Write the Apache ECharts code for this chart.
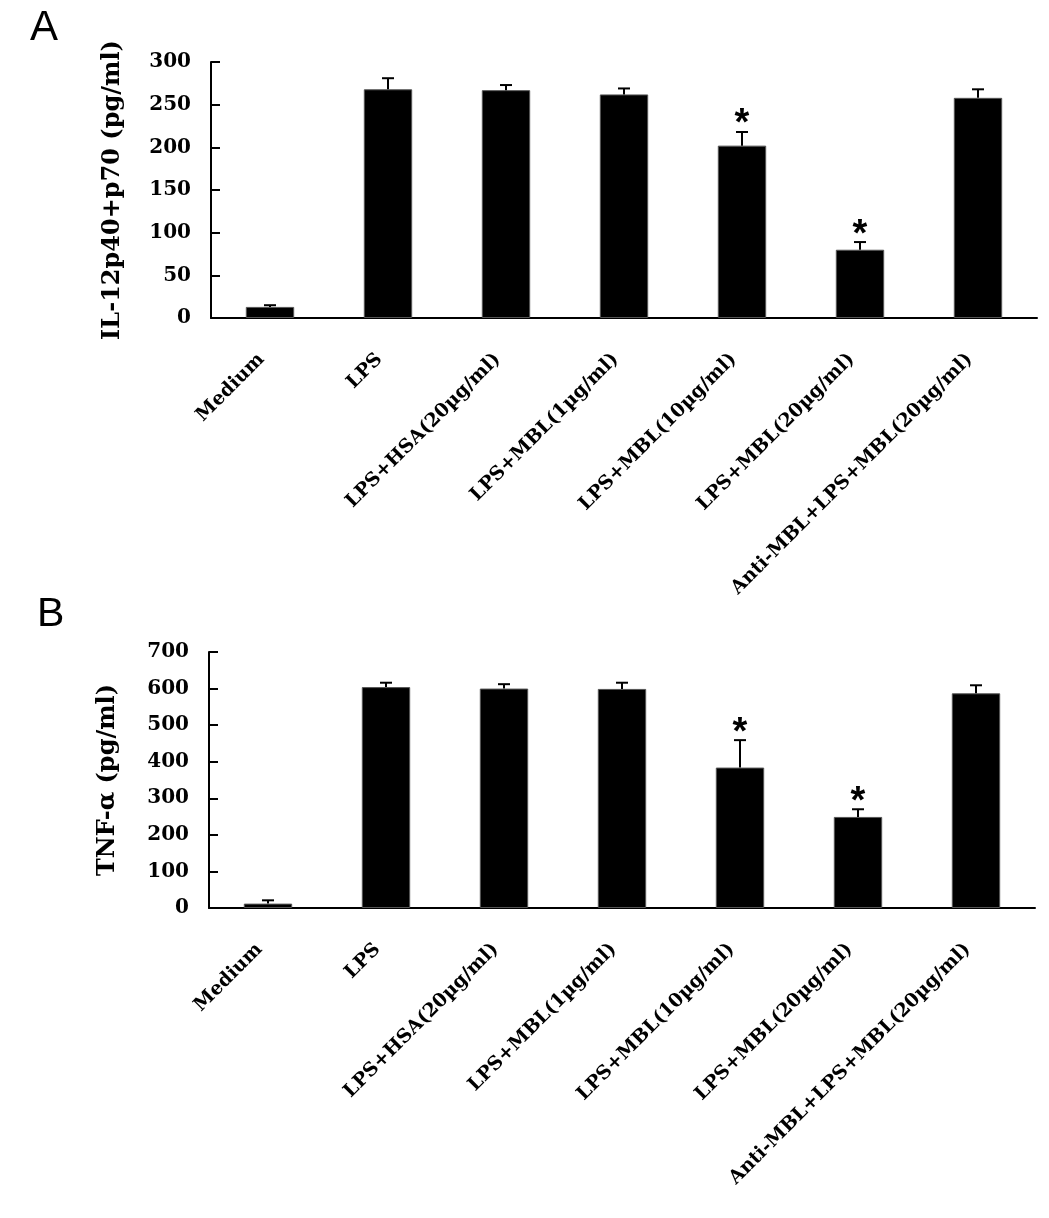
<!DOCTYPE html>
<html><head><meta charset="utf-8">
<script src="https://cdn.jsdelivr.net/npm/echarts@6/dist/echarts.min.js"></script>
<style>html,body{margin:0;padding:0;background:#fff}#c{width:1049px;height:1218px}</style>
</head><body><div id="c"></div>
<script>
var categories = ['Medium','LPS','LPS+HSA(20µg/ml)','LPS+MBL(1µg/ml)','LPS+MBL(10µg/ml)','LPS+MBL(20µg/ml)','Anti-MBL+LPS+MBL(20µg/ml)'];
var il12Mean = [13, 268, 267, 262, 202, 80, 258];
var il12Err  = [2, 13, 6, 7, 16, 9, 10];
var il12Sig  = ['', '', '', '', '*', '*', ''];
var tnfMean  = [12, 604, 600, 599, 384, 249, 587];
var tnfErr   = [9, 12, 12, 17, 75, 21, 22];
var tnfSig   = ['', '', '', '', '*', '*', ''];
var il12Ticks = {min: 0, max: 300, interval: 50};
var tnfTicks  = {min: 0, max: 700, interval: 100};

var chart = echarts.init(document.getElementById('c'), null, {renderer: 'canvas'});
var serif = 'DejaVu Serif';

function errData(mean, err, sig) {
  return mean.map(function (m, i) { return [i, m, m + err[i], sig[i]]; });
}
function errRender(params, api) {
  var x = api.value(0), lo = api.value(1), hi = api.value(2);
  var p0 = api.coord([x, lo]), p1 = api.coord([x, hi]);
  var half = 6;
  var children = [
    {type: 'line', shape: {x1: p0[0], y1: p0[1], x2: p1[0], y2: p1[1]}, style: {stroke: '#000', lineWidth: 2}},
    {type: 'line', shape: {x1: p1[0] - half, y1: p1[1], x2: p1[0] + half, y2: p1[1]}, style: {stroke: '#000', lineWidth: 2}}
  ];
  var s = api.value(3);
  if (s && s !== '-') {
    children.push({type: 'text', x: p1[0], y: p1[1] + 12,
      style: {text: s, fill: '#000', font: 'bold 38px "Liberation Sans", Arial', textAlign: 'center', textVerticalAlign: 'bottom'}});
  }
  return {type: 'group', children: children};
}

function xAxisCfg(gi) {
  return {
    type: 'category', gridIndex: gi, data: categories, boundaryGap: true,
    axisLine: {lineStyle: {color: '#000', width: 2}},
    axisTick: {inside: true, length: 9, lineStyle: {color: '#000', width: 2}},
    axisLabel: {rotate: 45, margin: 30, interval: 0, color: '#000', padding: [0, 12, 0, 0],
      fontFamily: serif, fontWeight: 'bold', fontSize: 19}
  };
}
function yAxisCfg(gi, ticks, name, gap) {
  return {
    type: 'value', gridIndex: gi, min: ticks.min, max: ticks.max, interval: ticks.interval,
    name: name, nameLocation: 'middle', nameRotate: 90, nameGap: gap,
    nameTextStyle: {color: '#000', fontFamily: serif, fontWeight: 'bold', fontSize: 24},
    splitLine: {show: false},
    axisLine: {show: true, lineStyle: {color: '#000', width: 2}},
    axisTick: {show: true, inside: true, length: 9, lineStyle: {color: '#000', width: 2}},
    axisLabel: {margin: 20, color: '#000', fontFamily: serif, fontWeight: 'bold', fontSize: 20}
  };
}

chart.setOption({
  animation: false,
  backgroundColor: '#fff',
  title: [
    {text: 'A', left: 25, top: 2, textStyle: {fontFamily: '"Liberation Sans", Arial', fontWeight: 'normal', fontSize: 42, color: '#000'}},
    {text: 'B', left: 32, top: 589, textStyle: {fontFamily: '"Liberation Sans", Arial', fontWeight: 'normal', fontSize: 41, color: '#000'}}
  ],
  grid: [
    {left: 211, right: 12, top: 62, height: 256},
    {left: 209, right: 14, top: 652, height: 256}
  ],
  xAxis: [xAxisCfg(0), xAxisCfg(1)],
  yAxis: [yAxisCfg(0, il12Ticks, 'IL-12p40+p70 (pg/ml)', 86), yAxisCfg(1, tnfTicks, 'TNF-α (pg/ml)', 89)],
  series: [
    {type: 'bar', xAxisIndex: 0, yAxisIndex: 0, data: il12Mean, barWidth: '41%',
      itemStyle: {color: '#000', borderColor: '#555', borderWidth: 1}},
    {type: 'custom', xAxisIndex: 0, yAxisIndex: 0, data: errData(il12Mean, il12Err, il12Sig), renderItem: errRender, z: 5},
    {type: 'bar', xAxisIndex: 1, yAxisIndex: 1, data: tnfMean, barWidth: '41%',
      itemStyle: {color: '#000', borderColor: '#555', borderWidth: 1}},
    {type: 'custom', xAxisIndex: 1, yAxisIndex: 1, data: errData(tnfMean, tnfErr, tnfSig), renderItem: errRender, z: 5}
  ]
});
</script></body></html>
